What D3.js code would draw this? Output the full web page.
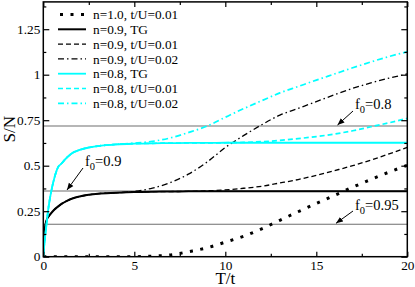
<!DOCTYPE html>
<html><head><meta charset="utf-8">
<script src="https://cdn.jsdelivr.net/npm/d3@7"></script>
<style>body{margin:0;background:#fff}svg{display:block}svg text{font-family:"Liberation Serif","Tinos","Times New Roman","Times","DejaVu Serif",serif !important}</style>
</head><body><svg id="c" width="415" height="287"></svg>
<script>
const T      = [0,0.05,0.1,0.2,0.3,0.4,0.6,0.8,1,1.3,1.6,2,2.5,3,4,5,6,7,8,9,10,11,12,13,14,15,16,17,18,19,20];
const n10_01 = [0,0,0,0,0,0,0,0,0,0,0,0,0,0,0,0,0.003,0.01,0.028,0.049,0.08,0.112,0.153,0.2,0.247,0.293,0.337,0.382,0.424,0.465,0.502];
const n09_TG = [0,0.11,0.165,0.205,0.222,0.235,0.258,0.275,0.29,0.307,0.32,0.331,0.34,0.346,0.351,0.355,0.357,0.358,0.359,0.36,0.36,0.36,0.36,0.36,0.36,0.36,0.36,0.36,0.36,0.36,0.36];
const n09_01 = [0,0.11,0.165,0.205,0.222,0.235,0.258,0.275,0.29,0.307,0.32,0.331,0.34,0.346,0.351,0.355,0.357,0.358,0.359,0.362,0.367,0.376,0.387,0.405,0.424,0.447,0.473,0.5,0.531,0.565,0.601];
const n09_02 = [0,0.11,0.165,0.205,0.222,0.235,0.258,0.275,0.29,0.307,0.32,0.331,0.34,0.346,0.351,0.359,0.377,0.408,0.455,0.52,0.6,0.665,0.725,0.778,0.815,0.852,0.89,0.925,0.955,0.981,1.004];
const n08_TG = [0,0.06,0.11,0.2,0.28,0.34,0.43,0.49,0.512,0.545,0.57,0.587,0.6,0.608,0.617,0.621,0.623,0.624,0.625,0.625,0.626,0.626,0.626,0.626,0.626,0.626,0.626,0.626,0.626,0.626,0.626];
const n08_01 = [0,0.06,0.11,0.2,0.28,0.34,0.43,0.49,0.512,0.545,0.57,0.587,0.6,0.608,0.617,0.621,0.623,0.624,0.625,0.625,0.626,0.628,0.632,0.639,0.649,0.66,0.674,0.692,0.714,0.736,0.76];
const n08_02 = [0,0.06,0.11,0.2,0.28,0.34,0.43,0.49,0.512,0.545,0.57,0.587,0.6,0.608,0.617,0.624,0.634,0.653,0.683,0.718,0.766,0.813,0.857,0.9,0.935,0.97,1.004,1.038,1.07,1.1,1.126];
const seriesLabels = ["n=1.0, t/U=0.01","n=0.9, TG","n=0.9, t/U=0.01","n=0.9, t/U=0.02","n=0.8, TG","n=0.8, t/U=0.01","n=0.8, t/U=0.02"];
const refValues = [0.718, 0.361, 0.178];
const refLabels = ["0.8", "0.9", "0.95"];
const xTicks = [0,5,10,15,20];
const yTicks = [0,0.25,0.5,0.75,1,1.25];
const yTickLabels = ["0","0.25","0.5","0.75","1","1.25"];

const seriesData = [n10_01,n09_TG,n09_01,n09_02,n08_TG,n08_01,n08_02];
const styles = [
  {c:"#000",w:3,d:"3,7.5"},
  {c:"#000",w:2,d:null},
  {c:"#000",w:1.3,d:"5,3"},
  {c:"#000",w:1.3,d:"6,3,1.5,3"},
  {c:"#00ffff",w:1.8,d:null},
  {c:"#00ffff",w:1.7,d:"5,3"},
  {c:"#00ffff",w:1.7,d:"6,3,1.5,3"}
];
const SERIF = "'Liberation Serif', Tinos, 'Times New Roman', Times, 'DejaVu Serif', serif";

const svg = d3.select("#c");
const L=43.3, R=407.3, TOP=1.9, B=256.7;
const x = d3.scaleLinear().domain([0,20]).range([L,R]);
const y = d3.scaleLinear().domain([0,1.4]).range([B,TOP]);

svg.append("clipPath").attr("id","clip").append("rect").attr("x",L).attr("y",TOP).attr("width",R-L).attr("height",B-TOP);

svg.append("g").selectAll("line").data(refValues).join("line")
  .attr("x1",L).attr("x2",R).attr("y1",d=>y(d)).attr("y2",d=>y(d))
  .attr("stroke","#6e6e6e").attr("stroke-width",1.1);

const line = d3.line().curve(d3.curveMonotoneX);
const g = svg.append("g").attr("clip-path","url(#clip)");
seriesData.forEach((s,i)=>{
  const st=styles[i];
  g.append("path").attr("d",line(T.map((t,j)=>[x(t),y(s[j])])))
    .attr("fill","none").attr("stroke",st.c).attr("stroke-width",st.w)
    .attr("stroke-dasharray",st.d).attr("stroke-linejoin","round");
});

const minorX = d3.range(0,20.01,2.5).filter(v=>v%5!==0);
const minorY = d3.range(0,1.4,0.125).filter(v=>Math.abs(v/0.25-Math.round(v/0.25))>0.01);
const axB = d3.axisBottom(x).tickValues(xTicks).tickSize(-5).tickPadding(4).tickFormat(d3.format("d"));
const axT = d3.axisTop(x).tickValues(xTicks).tickSize(-5).tickFormat("");
const axL = d3.axisLeft(y).tickValues(yTicks).tickSize(-6).tickPadding(3).tickFormat((d,i)=>yTickLabels[i]);
const axR = d3.axisRight(y).tickValues(yTicks).tickSize(-6).tickFormat("");
function style(gg){gg.attr("font-family",SERIF).attr("font-size",13.3);gg.select(".domain").remove();gg.selectAll("line").attr("stroke","#000").attr("stroke-width",1.2);
  gg.selectAll("text").attr("fill","#000");}
svg.append("g").attr("transform",`translate(0,${B})`).call(axB).call(style);
svg.append("g").attr("transform",`translate(0,${TOP})`).call(axT).call(style);
svg.append("g").attr("transform",`translate(${L},0)`).call(axL).call(style);
svg.append("g").attr("transform",`translate(${R},0)`).call(axR).call(style);
svg.append("g").attr("transform",`translate(0,${B})`).call(d3.axisBottom(x).tickValues(minorX).tickSize(-3).tickFormat("")).call(style);
svg.append("g").attr("transform",`translate(0,${TOP})`).call(d3.axisTop(x).tickValues(minorX).tickSize(-3).tickFormat("")).call(style);
svg.append("g").attr("transform",`translate(${L},0)`).call(d3.axisLeft(y).tickValues(minorY).tickSize(-3).tickFormat("")).call(style);
svg.append("g").attr("transform",`translate(${R},0)`).call(d3.axisRight(y).tickValues(minorY).tickSize(-3).tickFormat("")).call(style);

svg.append("rect").attr("x",L).attr("y",TOP).attr("width",R-L).attr("height",B-TOP)
  .attr("fill","none").attr("stroke","#000").attr("stroke-width",1.5);

svg.append("text").attr("x",x(10)).attr("y",283.5).attr("text-anchor","middle").attr("font-size",17).attr("font-family",SERIF).text("T/t");
svg.append("text").attr("transform",`translate(15,${y(0.7)}) rotate(-90)`).attr("text-anchor","middle").attr("font-size",17).attr("font-family",SERIF).text("S/N");

const lg = svg.append("g").attr("font-family",SERIF);
seriesLabels.forEach((lab,i)=>{
  const yy = 14.5 + i*14.8, st=styles[i];
  lg.append("line").attr("x1",i===0?60:58).attr("x2",86).attr("y1",yy).attr("y2",yy)
    .attr("stroke",st.c).attr("stroke-width",st.w).attr("stroke-dasharray",st.d);
  lg.append("text").attr("x",93).attr("y",yy).attr("dy","0.35em").attr("font-size",13.3).text(lab);
});

const defs = svg.append("defs");
defs.append("marker").attr("id","ah").attr("viewBox","0 0 10 10").attr("refX",10).attr("refY",5)
  .attr("markerWidth",7).attr("markerHeight",7).attr("orient","auto-start-reverse").attr("markerUnits","userSpaceOnUse")
  .append("path").attr("d","M0,1 L10,5 L0,9 Z").attr("fill","#000");
const ann = [
  {tx:355, ty:109, x1:353, y1:111, x2:337.5, y2:y(refValues[0])-1},
  {tx:85,  ty:166, x1:83,  y1:168, x2:67,    y2:y(refValues[1])-1},
  {tx:355, ty:210, x1:353, y1:211, x2:336,   y2:y(refValues[2])-1}
];
ann.forEach((a,i)=>{
  svg.append("line").attr("x1",a.x1).attr("y1",a.y1).attr("x2",a.x2).attr("y2",a.y2)
    .attr("stroke","#000").attr("stroke-width",1).attr("marker-end","url(#ah)");
  const t = svg.append("text").attr("x",a.tx).attr("y",a.ty).attr("font-size",14.5).attr("font-family",SERIF);
  t.append("tspan").text("f");
  t.append("tspan").attr("font-size",10.5).attr("dy",4).text("0");
  t.append("tspan").attr("dy",-4).text("=" + refLabels[i]);
});
</script></body></html>
